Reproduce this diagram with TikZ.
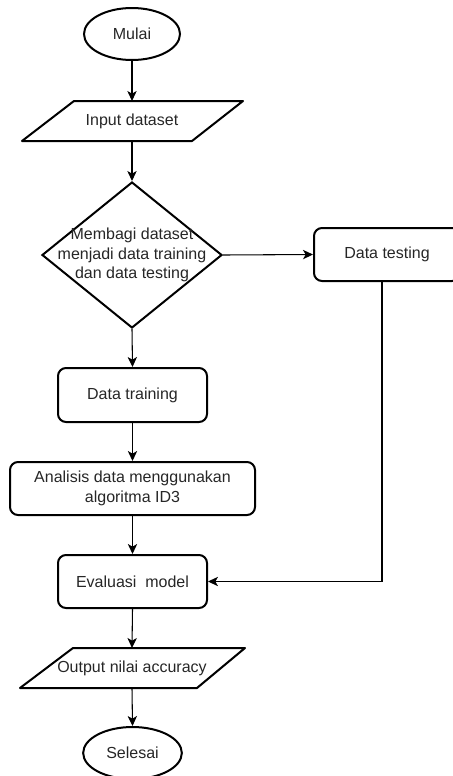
\documentclass[tikz,border=0pt]{standalone}
\usepackage{fontspec}
\setmainfont{Liberation Sans}
\usetikzlibrary{shapes.geometric,arrows.meta}

\tikzset{
  every node/.style={font=\fontsize{12}{14.5}\selectfont, text=black!85, align=center},
  border/.style={draw=black, line width=1.5pt},
  procbox/.style={border, rectangle, rounded corners=6pt, inner sep=0pt},
  terminal/.style={border, ellipse, inner sep=0pt},
  label/.style={inner sep=0pt},
  flow/.style={draw=black, line width=0.8pt, -{Stealth[length=7.5pt,width=7pt,inset=2pt]}},
  plainline/.style={draw=black, line width=0.8pt}
}

\begin{document}
\begin{tikzpicture}[x=0.75pt, y=-0.75pt]
  \useasboundingbox (0,0) rectangle (453,776);

  % start / end terminals
  \node[terminal, minimum width=72pt, minimum height=39pt] (mulai) at (132,34) {Mulai};
  \node[terminal, minimum width=74pt, minimum height=39pt] (selesai) at (132.5,753) {Selesai};

  % input parallelogram
  \coordinate (inTop) at (132,101);
  \coordinate (inBot) at (132,141);
  \draw[border, line join=round] (74,101) -- (243,101) -- (192,141) -- (22,141) -- cycle;
  \node[label] (input) at (132,121) {Input dataset};

  % decision
  \node[border, diamond, inner sep=0pt, minimum width=135pt, minimum height=109.5pt, aspect=1.23] (split) at (132,255) {};
  \node[label] (splittext) at (132,255) {Membagi dataset\\menjadi data training\\dan data testing};

  % process boxes
  \node[procbox, minimum width=109.5pt, minimum height=39.75pt] (testing) at (387,254.5) {Data testing};
  \node[procbox, minimum width=111.75pt, minimum height=40.5pt] (training) at (132.5,395) {Data training};
  \node[procbox, minimum width=183.75pt, minimum height=39.75pt] (analisis) at (132.5,488.5) {Analisis data menggunakan\\algoritma ID3};
  \node[procbox, minimum width=111.75pt, minimum height=39.75pt] (evaluasi) at (132.5,581.5) {Evaluasi\ \ model};

  % output parallelogram
  \coordinate (outTop) at (132,648);
  \coordinate (outBot) at (132,688);
  \draw[border, line join=round] (73,648) -- (245,648) -- (197,688) -- (20,688) -- cycle;
  \node[label] (output) at (132,668) {Output nilai accuracy};

  % connectors
  \draw[flow] (mulai.south) -- (inTop);
  \draw[flow] (inBot) -- (split.north);
  \draw[flow] (split.east) -- (testing.west);
  \draw[flow] (split.south) -- (training.north);
  \draw[flow] (training.south) -- (analisis.north);
  \draw[flow] (analisis.south) -- (evaluasi.north);
  \coordinate (testDown) at (382,281);
  \coordinate (testCorner) at (382,581.5);
  \draw[flow] (testDown) -- (testCorner) -- (evaluasi.east);
  \draw[flow] (evaluasi.south) -- (outTop);
  \draw[flow] (outBot) -- (selesai.north);
\end{tikzpicture}
\end{document}
